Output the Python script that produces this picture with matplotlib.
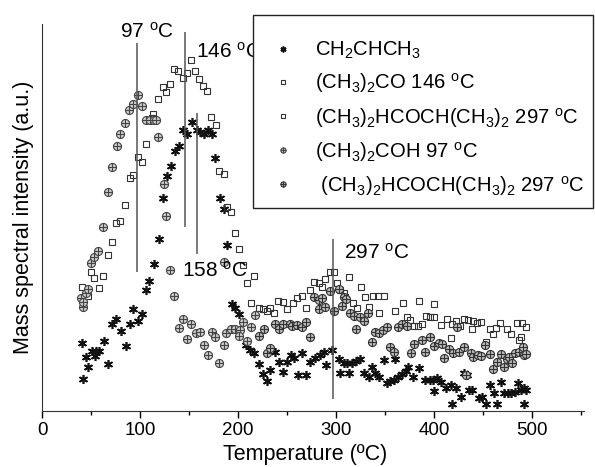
import matplotlib
matplotlib.use("Agg")
import matplotlib.pyplot as plt
from matplotlib.path import Path
from matplotlib.patches import Rectangle

plt.rcParams["font.family"] = ["Liberation Sans", "DejaVu Sans"]
plt.rcParams["mathtext.fontset"] = "custom"
plt.rcParams["mathtext.rm"] = "Liberation Sans"
plt.rcParams["mathtext.it"] = "Liberation Sans"
plt.rcParams["mathtext.bf"] = "Liberation Sans:bold"

# CH2CHCH3 (asterisks)
propene_t = [40.6, 42.2, 44.6, 47.3, 50.8, 54.1, 54.9, 58.5, 63, 67.7, 71.2, 75.1, 80.1, 85.5,
             89.4, 93, 98.4, 101.8, 106.2, 109.6, 114.4, 119.2, 123.9, 127.4, 131.8, 135.9,
             139.6, 144.3, 147.8, 152.9, 158, 161.4, 164.8, 168.9, 173.4, 176.7, 181.8, 185.4,
             188.5, 193.4, 197.1, 201.5, 208.1, 211.8, 215.8, 221.7, 225, 229.5, 232.9, 238,
             241.4, 245.5, 250, 254, 256.7, 261, 265.6, 269.7, 273.8, 278.9, 284, 287.3, 290.1,
             295.9, 302.7, 304.4, 308.5, 311.2, 312.9, 316.4, 320.4, 324.8, 328.9, 333.3, 336.8,
             340.2, 343.5, 348.6, 352.1, 355.5, 358.9, 360.6, 362.9, 367.4, 371.8, 373.2, 378.7,
             384.4, 391.2, 395.6, 399.1, 399.7, 403.2, 406.6, 411.7, 416.8, 418.5, 421.9, 427,
             430.4, 433.8, 435.5, 438.9, 445.7, 449.2, 453.2, 456.6, 461, 464.5, 468.6, 471.2,
             475.3, 478.8, 482.1, 485.5, 488.3, 491.6, 493.4, 491.6]
propene_i = [68, 32, 54, 44, 60, 55, 60, 60, 70, 47, 87, 92, 80, 65,
             87, 102, 90, 97, 121, 130, 147, 172, 213, 235, 245, 260,
             265, 281, 277, 289, 281, 279, 277, 281, 277, 253, 213, 202,
             166, 107, 103, 97, 66, 61, 58, 47, 37, 30, 41, 59,
             49, 39, 49, 56, 53, 36, 58, 36, 49, 53, 56, 59, 46,
             61, 52, 38, 48, 48, 38, 48, 50, 52, 38, 34, 44,
             38, 34, 51, 28, 30, 31, 52, 34, 37, 40, 44, 34,
             43, 31, 31, 31, 20, 33, 29, 23, 26, 7, 23, 14,
             38, 36, 21, 21, 13, 14, 7, 26, 18, 7, 29, 18,
             18, 18, 19, 28, 21, 23, 21, 7]

# (CH3)2CO, squares, 146 C peak
acetone_t = [40.6, 47.3, 50.1, 53.4, 58.4, 62.6, 67.1, 71.2, 75.3, 79.7, 84.8, 89.6, 93.3, 98.4,
             102.2, 106.2, 112.1, 113.7, 118.8, 123.9, 127, 130.8, 134.3, 139, 143.7, 147.8,
             151.9, 155.6, 160.4, 164.2, 168.2, 172.6, 177.4, 180.6, 185.2, 188.3, 193.1, 196.8,
             201.2, 204.8, 208.9, 213.2, 216.8, 220.9, 225.3, 229.5]
acetone_i = [124, 115, 139, 133, 123, 135, 156, 169, 188, 190, 206, 233, 236, 254,
             249, 267, 293, 297, 312, 324, 319, 327, 342, 340, 333, 338,
             351, 340, 332, 325, 320, 294, 286, 240, 237, 204, 199, 178,
             162, 146, 128, 108, 135, 103, 102, 100]

# (CH3)2HCOCH(CH3)2, squares, 297 C peak
ether_sq_t = [232.9, 237, 241, 245.5, 250, 255.9, 260.5, 265.3, 269.7, 273.8, 277.8, 282.2, 285.7,
              289.1, 293.5, 298.3, 301, 304.4, 307.8, 309.5, 313.6, 317.4, 321.5, 325.6, 330,
              333.3, 337.4, 342.5, 344.2, 348.6, 360.6, 368.4, 372.5, 375.2, 379.3, 383.8, 384.4,
              387.9, 392.3, 396.3, 399.7, 400.4, 406.6, 413.4, 417.8, 418.5, 422.6, 426.3, 430.4,
              434.9, 438.9, 439.9, 444, 448.1, 453.2, 456.6, 460, 463.4, 467.8, 474.7, 478.8,
              484.9, 486.5, 489, 490, 493.4]
ether_sq_i = [103, 98, 110, 109, 102, 108, 113, 115, 103, 121, 129, 128, 124,
              132, 139, 139, 128, 121, 118, 114, 134, 108, 103, 124, 114,
              104, 115, 115, 98, 115, 100, 108, 94, 91, 85, 85, 110,
              87, 95, 94, 107, 94, 86, 92, 73, 87, 90, 85, 92,
              91, 82, 90, 88, 89, 69, 82, 77, 83, 88, 82, 77,
              88, 71, 74, 88, 84]

# (CH3)2COH, crossed circles, 97 C peak
propanol_t = [39.8, 41.6, 42.2, 44.9, 47.3, 50.1, 53.4, 57.5, 62.6, 67.1, 71.2, 76.3, 79.7, 85,
              89.1, 93.3, 97.8, 102, 106.2, 110.3, 114.6, 116.5, 118.8, 124.8, 126.7, 130.8, 135,
              140.2, 143.9, 147.8, 152, 157, 160.7, 165.2, 169.6, 173.4, 177, 181.1, 185.2, 185.2,
              187.8, 192.9, 197.1, 202.3, 201.5, 204.8, 209.1, 213.2, 217.3]
propanol_i = [113, 104, 109, 118, 122, 148, 154, 160, 184, 219, 244, 265, 277, 288,
              301, 307, 316, 305, 291, 291, 291, 291, 274, 227, 195, 141, 115,
              83, 92, 72, 87, 78, 79, 66, 56, 79, 74, 48, 66, 149,
              78, 82, 82, 81, 75, 89, 70, 84, 96]

# (CH3)2HCOCH(CH3)2, crossed circles, 297 C peak
ether_ci_t = [220.9, 226.1, 229.2, 232.9, 238, 241.4, 245.9, 253.3, 255.1, 260.2, 265.3, 269.7,
              273.3, 277.8, 282.2, 282.2, 285.7, 289.1, 294.2, 298.3, 302.7, 306.1, 308.5, 310.5,
              313.9, 318, 320.7, 324.8, 328.2, 332.3, 336.8, 340.2, 343.5, 348, 352.1, 355.5,
              358.9, 362.9, 367.4, 372.5, 376.6, 380, 387.9, 391.2, 396.3, 400.4, 404.8, 408.3,
              409.9, 415, 419.5, 423.6, 425.2, 430.4, 432.1, 437.2, 439.9, 444.7, 448.1, 451.5,
              456.9, 460.4, 464.5, 468.6, 471.2, 474.7, 476.3, 479.8, 482.1, 486.5, 491, 491.6,
              493.4]
ether_ci_i = [75, 82, 58, 63, 87, 82, 87, 87, 85, 86, 84, 89,
              74, 114, 111, 102, 113, 104, 120, 100, 122, 105, 114, 112,
              98, 95, 82, 94, 90, 98, 69, 79, 78, 81, 84, 64,
              59, 84, 87, 85, 58, 67, 71, 59, 74, 65, 68, 67,
              53, 62, 58, 84, 59, 64, 36, 58, 54, 56, 55, 66,
              57, 42, 49, 57, 44, 52, 54, 48, 58, 59, 64, 56,
              57]

legend_labels = [
    r"CH$_2$CHCH$_3$",
    r"(CH$_3$)$_2$CO 146 $^\mathrm{o}$C",
    r"(CH$_3$)$_2$HCOCH(CH$_3$)$_2$ 297 $^\mathrm{o}$C",
    r"(CH$_3$)$_2$COH 97 $^\mathrm{o}$C",
    r" (CH$_3$)$_2$HCOCH(CH$_3$)$_2$ 297 $^\mathrm{o}$C",
]

peak_temps = [97, 146, 158, 297]
peak_lows = [139, 184, 157, 12]
peak_highs = [368, 379, 298, 172]

# circle with a cross through it
circ = Path.unit_circle()
cross = Path([[-1, 0], [1, 0], [0, -1], [0, 1]],
             [Path.MOVETO, Path.LINETO, Path.MOVETO, Path.LINETO])
circle_cross = Path.make_compound_path(circ, cross)

W, H = 595, 467
fig = plt.figure(figsize=(5.95, 4.67), dpi=100)
ax = fig.add_axes([42 / W, 1 - 411 / H, 542 / W, 387 / H])

ax.plot(propene_t, propene_i, ls="none", marker=(6, 2, 0), ms=6.5, mew=1.2,
        color="#111111", label=legend_labels[0])
ax.plot(acetone_t, acetone_i, ls="none", marker="s", ms=4.6, mew=0.8,
        mfc="none", mec="#333333", label=legend_labels[1])
ax.plot(ether_sq_t, ether_sq_i, ls="none", marker="s", ms=4.6, mew=0.8,
        mfc="none", mec="#333333", label=legend_labels[2])
ax.plot(propanol_t, propanol_i, ls="none", marker=circle_cross, ms=5.8, mew=0.8,
        mfc="#cfcfcf", mec="#444444", label=legend_labels[3])
ax.plot(ether_ci_t, ether_ci_i, ls="none", marker=circle_cross, ms=5.8, mew=0.8,
        mfc="#bdbdbd", mec="#333333", label=legend_labels[4])

ax.vlines(peak_temps, peak_lows, peak_highs, color="#555555", lw=1.1)

ax.text(79.5, 379, r"97 $^\mathrm{o}$C", fontsize=15, va="center")
ax.text(157, 359, r"146 $^\mathrm{o}$C", fontsize=15, va="center")
ax.text(143, 140, r"158 $^\mathrm{o}$C", fontsize=15, va="center")
ax.text(308, 158, r"297 $^\mathrm{o}$C", fontsize=15, va="center")

ax.set_xlim(0, 553)
ax.set_ylim(0, 387)
ax.set_xticks([0, 100, 200, 300, 400, 500])
ax.set_xticks([50, 150, 250, 350, 450, 550], minor=True)
ax.tick_params(axis="x", direction="out", length=5, width=1, labelsize=13.5, pad=3)
ax.tick_params(axis="x", which="minor", direction="out", length=3, width=1)
ax.set_yticks([])
ax.spines["top"].set_visible(False)
ax.spines["right"].set_visible(False)
ax.spines["left"].set_color("#333333")
ax.spines["bottom"].set_color("#333333")
ax.set_xlabel("Temperature (ºC)", fontsize=15.5, labelpad=1)
ax.xaxis.set_label_coords(0.485, -0.085)
ax.set_ylabel("Mass spectral intensity (a.u.)", fontsize=15.5, labelpad=6)

# legend box drawn separately so its padding matches the original
fig.patches.append(Rectangle((253 / W, 1 - 208 / H), 340 / W, 193 / H,
                             transform=fig.transFigure, fill=True, facecolor="white",
                             edgecolor="#222222", lw=1.0, zorder=3))
leg = fig.legend(loc="upper left", bbox_to_anchor=(268 / W, 1 - 40 / H),
                 fontsize=14.6, markerscale=0.65, handlelength=1.5, handletextpad=0.84,
                 borderpad=0, labelspacing=0.5, frameon=False, borderaxespad=0)
leg.set_zorder(4)

plt.savefig("out.png", dpi=100)
plt.close()
